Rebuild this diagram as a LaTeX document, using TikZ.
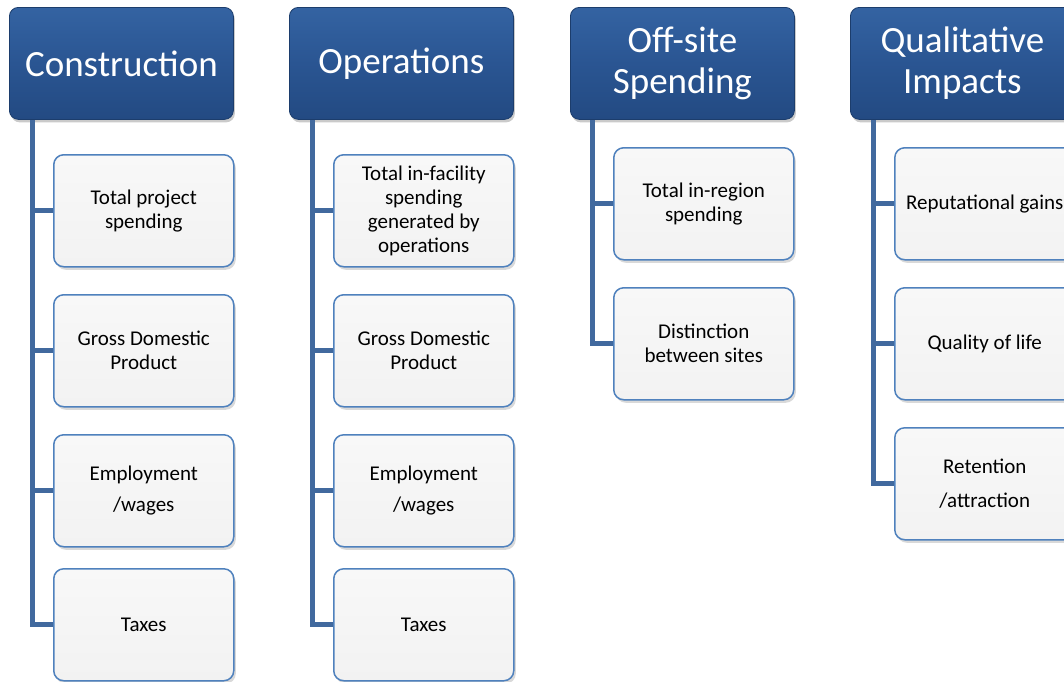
\documentclass[tikz,border=0pt]{standalone}
\usepackage{fontspec}
\setmainfont{Carlito}
\usetikzlibrary{shadows}
\definecolor{hdrtop}{HTML}{3463A2}
\definecolor{hdrmid}{HTML}{2A5592}
\definecolor{hdrbot}{HTML}{234A82}
\definecolor{hdrline}{HTML}{1C3D6C}
\definecolor{leafline}{HTML}{4F81BD}
\definecolor{leaftop}{HTML}{F8F8F8}
\definecolor{leafbot}{HTML}{F2F2F2}
\definecolor{spine}{HTML}{41699E}
\tikzset{
  hdr/.style={anchor=north west, rounded corners=9pt, draw=hdrline, line width=0.8pt,
    top color=hdrtop, bottom color=hdrbot, middle color=hdrmid,
    text=white, align=center, inner sep=0pt,
    minimum width=224pt, minimum height=112pt,
    font=\fontsize{37}{41}\selectfont,
    drop shadow={shadow xshift=1.5pt, shadow yshift=-3pt, opacity=0.35, fill=black!60}},
  leaf/.style={anchor=north west, rounded corners=10pt, draw=leafline, line width=1.5pt,
    top color=leaftop, bottom color=leafbot, text=black, align=center, inner sep=0pt,
    minimum width=180pt, minimum height=112pt,
    font=\fontsize{21}{24}\selectfont,
    drop shadow={shadow xshift=2pt, shadow yshift=-3pt, opacity=0.3, fill=black!50}},
  conn/.style={draw=spine, line width=5pt}
}
\begin{document}
\begin{tikzpicture}[x=1pt,y=-1pt]
\useasboundingbox (0,0) rectangle (1064,681);
\clip (0,0) rectangle (1064,681);

% column headers
\node[hdr] (h1) at (9,7) {Construction};
\node[hdr] (h2) at (289,7) {Operations};
\node[hdr] (h3) at (570,7) {Off-site\\Spending};
\node[hdr] (h4) at (850,7) {Qualitative\\Impacts};

% Construction
\node[leaf] (c11) at (53,154) {Total project\\spending};
\node[leaf] (c12) at (53,294) {Gross Domestic\\Product};
\node[leaf] (c13) at (53,434) {Employment\\[7pt]/wages};
\node[leaf] (c14) at (53,568) {Taxes};

% Operations
\node[leaf] (c21) at (333,154) {Total in-facility\\spending\\generated by\\operations};
\node[leaf] (c22) at (333,294) {Gross Domestic\\Product};
\node[leaf] (c23) at (333,434) {Employment\\[7pt]/wages};
\node[leaf] (c24) at (333,568) {Taxes};

% Off-site spending
\node[leaf] (c31) at (613,147) {Total in-region\\spending};
\node[leaf] (c32) at (613,287) {Distinction\\between sites};

% Qualitative impacts
\node[leaf] (c41) at (894,147) {Reputational gains};
\node[leaf] (c42) at (894,287) {Quality of life};
\node[leaf] (c43) at (894,427) {Retention\\[10pt]/attraction};

% spines and branches
\coordinate (s1) at ([xshift=23pt]h1.south west);
\coordinate (s2) at ([xshift=23pt]h2.south west);
\coordinate (s3) at ([xshift=22pt]h3.south west);
\coordinate (s4) at ([xshift=23pt]h4.south west);

\foreach \c in {c11,c12,c13,c14} \draw[conn] (s1) |- (\c.west);
\foreach \c in {c21,c22,c23,c24} \draw[conn] (s2) |- (\c.west);
\foreach \c in {c31,c32} \draw[conn] (s3) |- (\c.west);
\foreach \c in {c41,c42,c43} \draw[conn] (s4) |- (\c.west);
\end{tikzpicture}
\end{document}
